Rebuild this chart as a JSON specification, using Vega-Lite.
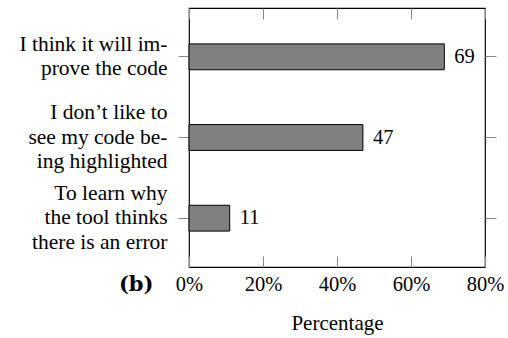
{
  "$schema": "https://vega.github.io/schema/vega-lite/v6.json",
  "autosize": "none",
  "padding": {"left": 189, "top": 8, "right": 23, "bottom": 71},
  "width": 296,
  "height": 259,
  "background": "white",
  "config": {
    "font": "Liberation Serif, Times New Roman, serif",
    "view": {"stroke": "#000", "strokeWidth": 1.2},
    "text": {"font": "Liberation Serif, Times New Roman, serif"},
    "axis": {
      "grid": false,
      "domain": false,
      "tickColor": "#888",
      "tickWidth": 1,
      "labelColor": "#000",
      "labelFont": "Liberation Serif, Times New Roman, serif",
      "labelFontSize": 20.5,
      "titleColor": "#000",
      "titleFont": "Liberation Serif, Times New Roman, serif",
      "titleFontSize": 21,
      "titleFontWeight": "normal"
    }
  },
  "data": {
    "values": [
      {"reason": "I think it will im-|prove the code", "pct": 69},
      {"reason": "I don’t like to|see my code be-|ing highlighted", "pct": 47},
      {"reason": "To learn why|the tool thinks|there is an error", "pct": 11}
    ]
  },
  "layer": [
    {
      "mark": {"type": "bar", "fill": "#808080", "stroke": "#000", "strokeWidth": 1},
      "encoding": {
        "y": {
          "field": "reason",
          "type": "nominal",
          "sort": null,
          "scale": {"paddingInner": 0.68, "paddingOuter": 0.445},
          "axis": {
            "orient": "left",
            "tickSize": 11,
            "labelPadding": 11,
            "labelAlign": "right",
            "labelLimit": 400,
            "labelFontSize": 21.5,
            "labelLineHeight": 24.5,
            "labelExpr": "split(datum.label, '|')",
            "labelOffset": {"condition": {"test": "indexof(datum.label, 'I think') === 0", "value": -12.25}, "value": -24.5},
            "title": "(b)",
            "titleAngle": 0,
            "titleX": -36,
            "titleY": 282,
            "titleAlign": "right",
            "titleBaseline": "alphabetic",
            "titleFont": "DejaVu Serif, serif",
            "titleFontWeight": "bold",
            "titleFontSize": 21
          }
        },
        "x": {
          "field": "pct",
          "type": "quantitative",
          "scale": {"domain": [0, 80], "nice": false},
          "axis": {
            "orient": "bottom",
            "values": [0, 20, 40, 60, 80],
            "tickSize": -11,
            "labelPadding": 18,
            "labelFlush": false,
            "labelOverlap": false,
            "labelExpr": "datum.value + '%'",
            "title": "Percentage",
            "titlePadding": 18
          }
        }
      }
    },
    {
      "mark": {"type": "text", "align": "left", "baseline": "middle", "dx": 10, "fontSize": 20.5, "color": "#000"},
      "encoding": {
        "y": {
          "field": "reason",
          "type": "nominal",
          "sort": null,
          "axis": {"orient": "right", "tickSize": 11, "labels": false, "title": null}
        },
        "x": {
          "field": "pct",
          "type": "quantitative",
          "axis": {"orient": "top", "values": [0, 20, 40, 60, 80], "tickSize": -11, "labels": false, "title": null}
        },
        "text": {"field": "pct", "type": "quantitative"}
      }
    }
  ],
  "resolve": {"axis": {"x": "independent", "y": "independent"}}
}
